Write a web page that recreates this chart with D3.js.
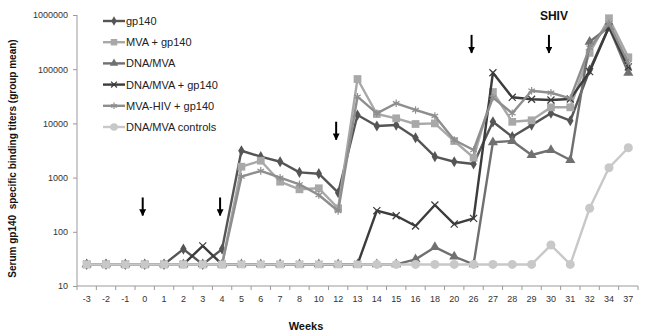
<!DOCTYPE html>
<head>
<meta charset="utf-8">
<script src="https://d3js.org/d3.v7.min.js"></script>
<style>
  body { margin: 0; background: #fff; }
  svg { font-family: "Liberation Sans", Arial, sans-serif; }
  .axis path, .axis line { stroke: #9a9a9a; }
  .axis text { font-size: 9px; fill: #333; }
  .title { font-weight: bold; fill: #111; }
  .legend text { font-size: 11px; fill: #222; }
</style>
</head>
<body>
<div id="chart"></div>
<script>
// weeks on the x axis
var weeks = ["-3","-2","-1","0","1","2","3","4","5","6","7","8","10","12","13","14","15","16","18","20","26","27","28","29","30","31","32","34","37"];

// group mean titers, one array per group
var gp140 = [25,25,25,25,25,48,25,48,3130,2430,1960,1250,1180,526,14300,8950,9320,5440,2430,1960,1780,10700,5690,9300,15400,11200,96600,608000,104000];
var mvaGp140 = [25,25,25,25,25,25,25,25,1590,2050,840,608,635,272,65900,14900,12400,9750,10000,4730,2330,38000,10700,11400,19800,19800,200000,871000,166000];
var dnaMva = [25,25,25,25,25,25,25,25,25,25,25,25,25,25,25,25,25,31,52,35,25,4480,4730,2610,3230,2110,321000,600000,86000];
var dnaMvaGp140 = [25,25,25,25,25,25,55,25,25,25,25,25,25,25,25,245,198,128,312,139,177,86000,30300,27900,27000,28200,90000,600000,110000];
var mvaHivGp140 = [25,25,25,25,25,25,25,25,1040,1330,995,750,477,242,31100,15300,23500,17700,13700,4940,3230,30000,15400,40100,36800,29000,250000,700000,130000];
var controls = [25,25,25,25,25,25,25,25,25,25,25,25,25,25,25,25,25,25,25,25,25,25,25,25,57,25,272,1520,3560];

var seriesNames = ["gp140","MVA + gp140","DNA/MVA","DNA/MVA + gp140","MVA-HIV + gp140","DNA/MVA controls"];
var seriesValues = [gp140, mvaGp140, dnaMva, dnaMvaGp140, mvaHivGp140, controls];

var yTicks = [10,100,1000,10000,100000,1000000];

// immunisation arrows and SHIV challenge
var arrowWeeks = ["0","4","12","26","30"];
var arrowTips = [200,200,5000,200000,200000];

var width = 647, height = 335;
var margin = {top: 15, right: 9, bottom: 49, left: 77};

var colors = ["#555555","#a8a8a8","#707070","#3c3c3c","#8e8e8e","#c8c8c8"];
var shapes = [d3.symbolDiamond, d3.symbolSquare, d3.symbolTriangle, d3.symbolX, d3.symbolAsterisk, d3.symbolCircle];
var sizes = [36, 60, 44, 34, 40, 64];
var stroked = [false,false,false,true,true,false];

var svg = d3.select("#chart").append("svg")
    .attr("width", width)
    .attr("height", height);

var x = d3.scaleBand()
    .domain(weeks)
    .range([margin.left, width - margin.right]);

var y = d3.scaleLog()
    .domain([10, 1000000])
    .range([height - margin.bottom, margin.top]);

// axes ---------------------------------------------------
var xAxis = svg.append("g")
    .attr("class", "axis")
    .attr("transform", "translate(0," + y(10) + ")")
    .call(d3.axisBottom(x).tickSize(0).tickPadding(10));
xAxis.select(".domain").attr("d", "M" + x.range()[0] + ",0H" + x.range()[1]);
xAxis.selectAll(".sep")
    .data(weeks.concat(["end"]))
    .enter().append("line")
    .attr("class", "sep")
    .attr("x1", function(d, i) { return x.range()[0] + i * x.bandwidth(); })
    .attr("x2", function(d, i) { return x.range()[0] + i * x.bandwidth(); })
    .attr("y1", 0).attr("y2", 4);

var yAxis = svg.append("g")
    .attr("class", "axis")
    .attr("transform", "translate(" + margin.left + ",0)")
    .call(d3.axisLeft(y).tickValues(yTicks).tickFormat(d3.format("d")).tickSize(4).tickPadding(5));
yAxis.select(".domain").attr("d", "M0," + y(1000000) + "V" + y(10));

// titles
svg.append("text")
    .attr("class", "title")
    .attr("transform", "translate(16," + ((y(10) + y(1000000)) / 2 + 8) + ") rotate(-90)")
    .attr("text-anchor", "middle")
    .style("font-size", "10px")
    .style("white-space", "pre")
    .text("Serum gp140  specific binding titers (group mean)");

svg.append("text")
    .attr("class", "title")
    .attr("x", 306).attr("y", 330)
    .attr("text-anchor", "middle")
    .style("font-size", "11px")
    .text("Weeks");

svg.append("text")
    .attr("class", "title")
    .attr("x", x("30") + x.bandwidth() / 2 + 3).attr("y", 20)
    .attr("text-anchor", "middle")
    .style("font-size", "12px")
    .text("SHIV");

// series --------------------------------------------------
var line = d3.line()
    .x(function(d, i) { return x(weeks[i]) + x.bandwidth() / 2; })
    .y(function(d) { return y(d); });

function marker(sel, k, px, py, scale) {
    var s = d3.symbol().type(shapes[k]).size(sizes[k] * scale);
    var m = sel.append("path")
        .attr("d", s)
        .attr("transform", "translate(" + px + "," + py + ")");
    if (stroked[k]) m.attr("fill", "none").attr("stroke", colors[k]).attr("stroke-width", 1.2);
    else m.attr("fill", colors[k]);
    return m;
}

seriesValues.forEach(function(vals, k) {
    var g = svg.append("g");
    g.append("path")
        .datum(vals)
        .attr("fill", "none")
        .attr("stroke", colors[k])
        .attr("stroke-width", 2.4)
        .attr("stroke-linejoin", "round")
        .attr("d", line);
    vals.forEach(function(v, i) {
        var kk = k;
        // the baseline markers of the controls are squares up to week 13 in the original
        if (k === 5 && i <= weeks.indexOf("13")) {
            var m = d3.symbol().type(d3.symbolSquare).size(60);
            g.append("path").attr("d", m).attr("fill", colors[5])
                .attr("transform", "translate(" + (x(weeks[i]) + x.bandwidth() / 2) + "," + y(v) + ")");
            return;
        }
        marker(g, kk, x(weeks[i]) + x.bandwidth() / 2, y(v), 1);
    });
});

// arrows -------------------------------------------------
svg.append("defs").append("marker")
    .attr("id", "head")
    .attr("viewBox", "0 0 10 10")
    .attr("refX", 9).attr("refY", 5)
    .attr("markerWidth", 3.5).attr("markerHeight", 3.5)
    .attr("orient", "auto")
    .append("path").attr("d", "M0,0L10,5L0,10z").attr("fill", "#000");

svg.selectAll(".arrow")
    .data(arrowWeeks)
    .enter().append("line")
    .attr("class", "arrow")
    .attr("x1", function(d) { return x(d) + x.bandwidth() / 2 - 2; })
    .attr("x2", function(d) { return x(d) + x.bandwidth() / 2 - 2; })
    .attr("y1", function(d, i) { return y(arrowTips[i]) - 18; })
    .attr("y2", function(d, i) { return y(arrowTips[i]); })
    .attr("stroke", "#000")
    .attr("stroke-width", 2)
    .attr("marker-end", "url(#head)");

// legend --------------------------------------------------
var legend = svg.append("g").attr("class", "legend");
seriesNames.forEach(function(name, k) {
    var ly = 21 + k * 21.2;
    legend.append("line")
        .attr("x1", 103).attr("x2", 125)
        .attr("y1", ly).attr("y2", ly)
        .attr("stroke", colors[k]).attr("stroke-width", 2.4);
    marker(legend, k, 114, ly, 0.7);
    legend.append("text")
        .attr("x", 126).attr("y", ly + 4)
        .text(name);
});
</script>
</body>
